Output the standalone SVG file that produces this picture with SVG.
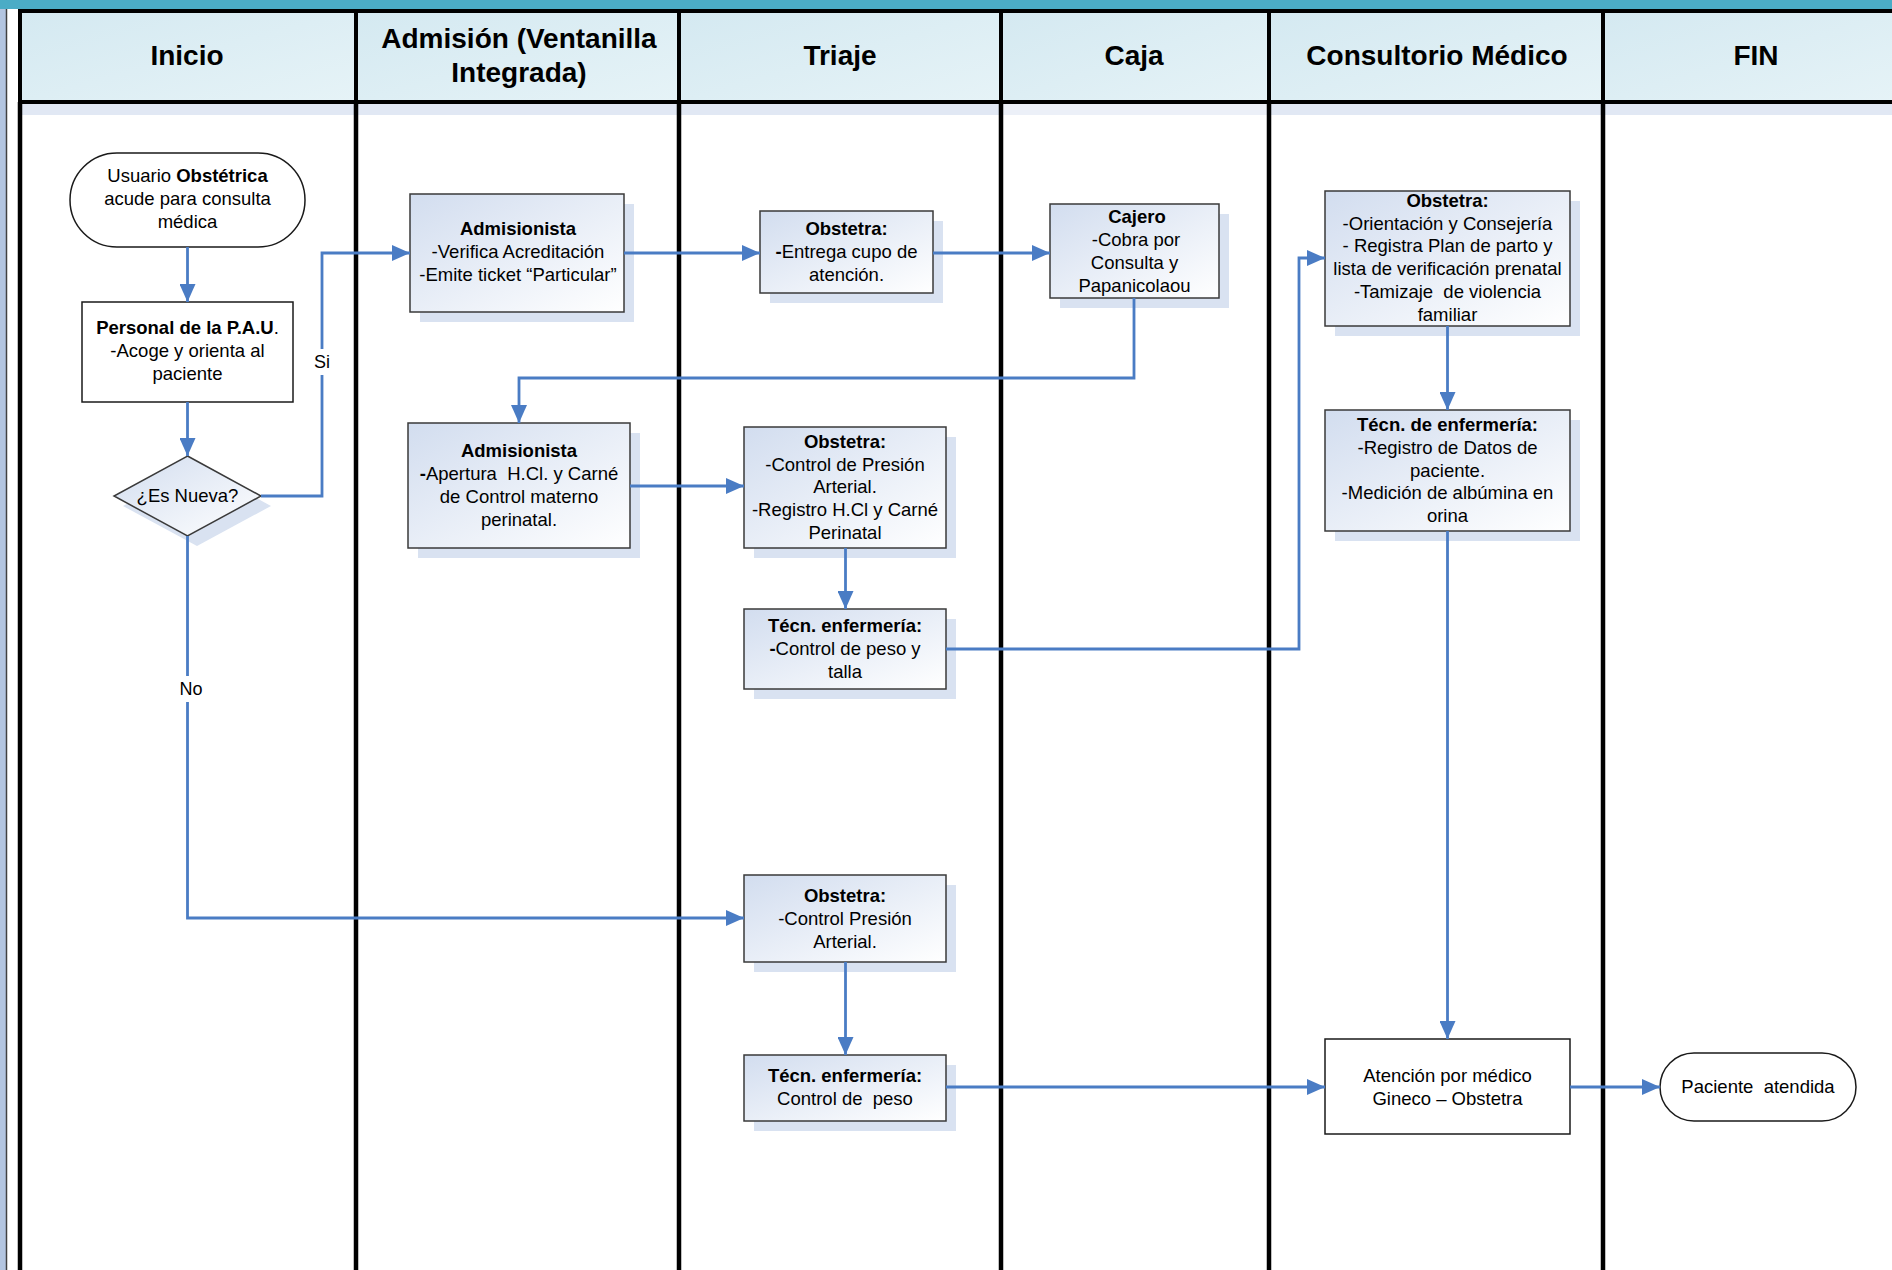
<svg xmlns="http://www.w3.org/2000/svg" width="1892" height="1270" viewBox="0 0 1892 1270">
<defs>
<linearGradient id="gNode" x1="0" y1="0" x2="1" y2="1">
<stop offset="0" stop-color="#D2DDEF"/>
<stop offset="1" stop-color="#FFFFFF"/>
</linearGradient>
<linearGradient id="gHead" x1="0" y1="0" x2="1" y2="1">
<stop offset="0" stop-color="#D4E9F1"/>
<stop offset="1" stop-color="#E6F3F7"/>
</linearGradient>
<marker id="arr" markerUnits="userSpaceOnUse" markerWidth="18" markerHeight="16" refX="18" refY="8" orient="auto">
<path d="M0,0 L18,8 L0,16 z" fill="#4A7CC4"/>
</marker>
<style>
.lane{stroke:#000;stroke-width:4.5;fill:none}
.hcell{fill:url(#gHead);stroke:#000;stroke-width:4}
.htxt{font-family:"Liberation Sans",Arial,sans-serif;font-size:28px;font-weight:bold;text-anchor:middle;fill:#000}
.shadow{fill:#D9E2F1}
.gbox{fill:url(#gNode);stroke:#3A3A3A;stroke-width:1.5}
.wbox{fill:#FFFFFF;stroke:#1A1A1A;stroke-width:1.5}
.t{font-family:"Liberation Sans",Arial,sans-serif;font-size:18.5px;text-anchor:middle;fill:#000;white-space:pre}
.b{font-weight:bold}
.conn{fill:none;stroke:#4A7CC4;stroke-width:2.8}
.lbl{font-family:"Liberation Sans",Arial,sans-serif;font-size:18px;text-anchor:middle;fill:#000}
</style>
</defs>

<rect x="0" y="0" width="1892" height="1270" fill="#FFFFFF"/>
<!-- top bar and left strip -->
<rect x="0" y="0" width="1892" height="9" fill="#4BACC6"/>
<rect x="0" y="9" width="6" height="1261" fill="#B3C5E0"/>
<line x1="6.5" y1="9" x2="6.5" y2="1270" stroke="#404040" stroke-width="1.5"/>

<!-- header -->
<g id="header">
<rect class="shadow" x="22" y="104" width="332" height="11" opacity="0.8"/>
<rect class="shadow" x="358" y="104" width="319" height="11" opacity="0.8"/>
<rect class="shadow" x="681" y="104" width="318" height="11" opacity="0.8"/>
<rect class="shadow" x="1003" y="104" width="264" height="11" opacity="0.5"/>
<rect class="shadow" x="1271" y="104" width="330" height="11" opacity="0.8"/>
<rect class="shadow" x="1605" y="104" width="287" height="11" opacity="0.8"/>
<rect class="hcell" x="20" y="11" width="336" height="91"/>
<rect class="hcell" x="356" y="11" width="323" height="91"/>
<rect class="hcell" x="679" y="11" width="322" height="91"/>
<rect class="hcell" x="1001" y="11" width="268" height="91"/>
<rect class="hcell" x="1269" y="11" width="334" height="91"/>
<rect class="hcell" x="1603" y="11" width="300" height="91"/>
<text class="htxt" x="187" y="65">Inicio</text>
<text class="htxt" x="519" y="48">Admisión (Ventanilla</text>
<text class="htxt" x="519" y="82">Integrada)</text>
<text class="htxt" x="840" y="65">Triaje</text>
<text class="htxt" x="1134" y="65">Caja</text>
<text class="htxt" x="1437" y="65">Consultorio Médico</text>
<text class="htxt" x="1756" y="65">FIN</text>
</g>

<!-- lanes -->
<g id="lanes">
<line class="lane" x1="20" y1="102" x2="20" y2="1270"/>
<line class="lane" x1="356" y1="102" x2="356" y2="1270"/>
<line class="lane" x1="679" y1="102" x2="679" y2="1270"/>
<line class="lane" x1="1001" y1="102" x2="1001" y2="1270"/>
<line class="lane" x1="1269" y1="102" x2="1269" y2="1270"/>
<line class="lane" x1="1603" y1="102" x2="1603" y2="1270"/>
</g>

<!-- nodes -->
<g id="n-start">
<rect class="wbox" x="70" y="153" width="235" height="94" rx="47" ry="47"/>
<text class="t" x="187.5" y="182">Usuario <tspan class="b">Obstétrica</tspan></text>
<text class="t" x="187.5" y="205">acude para consulta</text>
<text class="t" x="187.5" y="228">médica</text>
</g>

<g id="n-pau">
<rect class="wbox" x="82" y="302" width="211" height="100"/>
<text class="t" x="187.5" y="334"><tspan class="b">Personal de la P.A.U</tspan>.</text>
<text class="t" x="187.5" y="357">-Acoge y orienta al</text>
<text class="t" x="187.5" y="380">paciente</text>
</g>

<g id="n-decision">
<polygon class="shadow" points="197,466 271,506 197,546 123,506"/>
<polygon class="gbox" points="187.5,456 261,496 187.5,536 114,496"/>
<text class="t" x="187.5" y="502">¿Es Nueva?</text>
</g>

<g id="n-admision1">
<rect class="shadow" x="420" y="204" width="214" height="118"/>
<rect class="gbox" x="410" y="194" width="214" height="118"/>
<text class="t b" x="518" y="235">Admisionista</text>
<text class="t" x="518" y="258">-Verifica Acreditación</text>
<text class="t" x="518" y="281">-Emite ticket “Particular”</text>
</g>

<g id="n-obstetra1">
<rect class="shadow" x="770" y="221" width="173" height="82"/>
<rect class="gbox" x="760" y="211" width="173" height="82"/>
<text class="t b" x="846.5" y="235">Obstetra:</text>
<text class="t" x="846.5" y="258"><tspan class="b">-</tspan>Entrega cupo de</text>
<text class="t" x="846.5" y="281">atención.</text>
</g>

<g id="n-cajero">
<rect class="shadow" x="1060" y="214" width="169" height="94"/>
<rect class="gbox" x="1050" y="204" width="169" height="94"/>
<text class="t b" x="1137" y="223">Cajero</text>
<text class="t" x="1136" y="246">-Cobra por</text>
<text class="t" x="1134.5" y="269">Consulta y</text>
<text class="t" x="1134.5" y="292">Papanicolaou</text>
</g>

<g id="n-obstetra-consultorio">
<rect class="shadow" x="1335" y="201" width="245" height="135"/>
<rect class="gbox" x="1325" y="191" width="245" height="135"/>
<text class="t b" x="1447.5" y="207">Obstetra:</text>
<text class="t" x="1447.5" y="230">-Orientación y Consejería</text>
<text class="t" x="1447.5" y="252">- Registra Plan de parto y</text>
<text class="t" x="1447.5" y="275">lista de verificación prenatal</text>
<text class="t" x="1447.5" y="298">-Tamizaje  de violencia</text>
<text class="t" x="1447.5" y="321">familiar</text>
</g>

<g id="n-admision2">
<rect class="shadow" x="418" y="433" width="222" height="125"/>
<rect class="gbox" x="408" y="423" width="222" height="125"/>
<text class="t b" x="519" y="457">Admisionista</text>
<text class="t" x="519" y="480"><tspan class="b">-</tspan>Apertura  H.Cl. y Carné</text>
<text class="t" x="519" y="503">de Control materno</text>
<text class="t" x="519" y="526">perinatal.</text>
</g>

<g id="n-obstetra2">
<rect class="shadow" x="754" y="437" width="202" height="121"/>
<rect class="gbox" x="744" y="427" width="202" height="121"/>
<text class="t b" x="845" y="448">Obstetra:</text>
<text class="t" x="845" y="471">-Control de Presión</text>
<text class="t" x="845" y="493">Arterial.</text>
<text class="t" x="845" y="516">-Registro H.Cl y Carné</text>
<text class="t" x="845" y="539">Perinatal</text>
</g>

<g id="n-tecn1">
<rect class="shadow" x="754" y="619" width="202" height="80"/>
<rect class="gbox" x="744" y="609" width="202" height="80"/>
<text class="t b" x="845" y="632">Técn. enfermería:</text>
<text class="t" x="845" y="655"><tspan class="b">-</tspan>Control de peso y</text>
<text class="t" x="845" y="678">talla</text>
</g>

<g id="n-tecn-consultorio">
<rect class="shadow" x="1335" y="420" width="245" height="121"/>
<rect class="gbox" x="1325" y="410" width="245" height="121"/>
<text class="t b" x="1447.5" y="431">Técn. de enfermería:</text>
<text class="t" x="1447.5" y="454">-Registro de Datos de</text>
<text class="t" x="1447.5" y="477">paciente.</text>
<text class="t" x="1447.5" y="499">-Medición de albúmina en</text>
<text class="t" x="1447.5" y="522">orina</text>
</g>

<g id="n-obstetra3">
<rect class="shadow" x="754" y="885" width="202" height="87"/>
<rect class="gbox" x="744" y="875" width="202" height="87"/>
<text class="t b" x="845" y="902">Obstetra:</text>
<text class="t" x="845" y="925">-Control Presión</text>
<text class="t" x="845" y="948">Arterial.</text>
</g>

<g id="n-tecn2">
<rect class="shadow" x="754" y="1065" width="202" height="66"/>
<rect class="gbox" x="744" y="1055" width="202" height="66"/>
<text class="t b" x="845" y="1082">Técn. enfermería:</text>
<text class="t" x="845" y="1105">Control de  peso</text>
</g>

<g id="n-atencion">
<rect class="wbox" x="1325" y="1039" width="245" height="95"/>
<text class="t" x="1447.5" y="1082">Atención por médico</text>
<text class="t" x="1447.5" y="1105">Gineco – Obstetra</text>
</g>

<g id="n-end">
<rect class="wbox" x="1660" y="1053" width="196" height="68" rx="34" ry="34"/>
<text class="t" x="1758" y="1093">Paciente  atendida</text>
</g>

<!-- connectors -->
<g id="connectors">
<path class="conn" d="M187.5 247 V302" marker-end="url(#arr)"/>
<path class="conn" d="M187.5 402 V456" marker-end="url(#arr)"/>
<path class="conn" d="M261 496 H322 V253 H410" marker-end="url(#arr)"/>
<path class="conn" d="M624 253 H760" marker-end="url(#arr)"/>
<path class="conn" d="M933 253 H1050" marker-end="url(#arr)"/>
<path class="conn" d="M1134 298 V378 H519 V423" marker-end="url(#arr)"/>
<path class="conn" d="M630 486 H744" marker-end="url(#arr)"/>
<path class="conn" d="M845.5 548 V609" marker-end="url(#arr)"/>
<path class="conn" d="M946 649 H1299 V258 H1325" marker-end="url(#arr)"/>
<path class="conn" d="M1447.5 326 V410" marker-end="url(#arr)"/>
<path class="conn" d="M1447.5 531 V1039" marker-end="url(#arr)"/>
<path class="conn" d="M187.5 536 V918 H744" marker-end="url(#arr)"/>
<path class="conn" d="M845.5 962 V1055" marker-end="url(#arr)"/>
<path class="conn" d="M946 1087 H1325" marker-end="url(#arr)"/>
<path class="conn" d="M1570 1087 H1660" marker-end="url(#arr)"/>
<rect x="311" y="349" width="22" height="26" fill="#FFFFFF"/>
<text class="lbl" x="322" y="368">Si</text>
<rect x="177" y="676" width="28" height="26" fill="#FFFFFF"/>
<text class="lbl" x="191" y="695">No</text>
</g>
</svg>
